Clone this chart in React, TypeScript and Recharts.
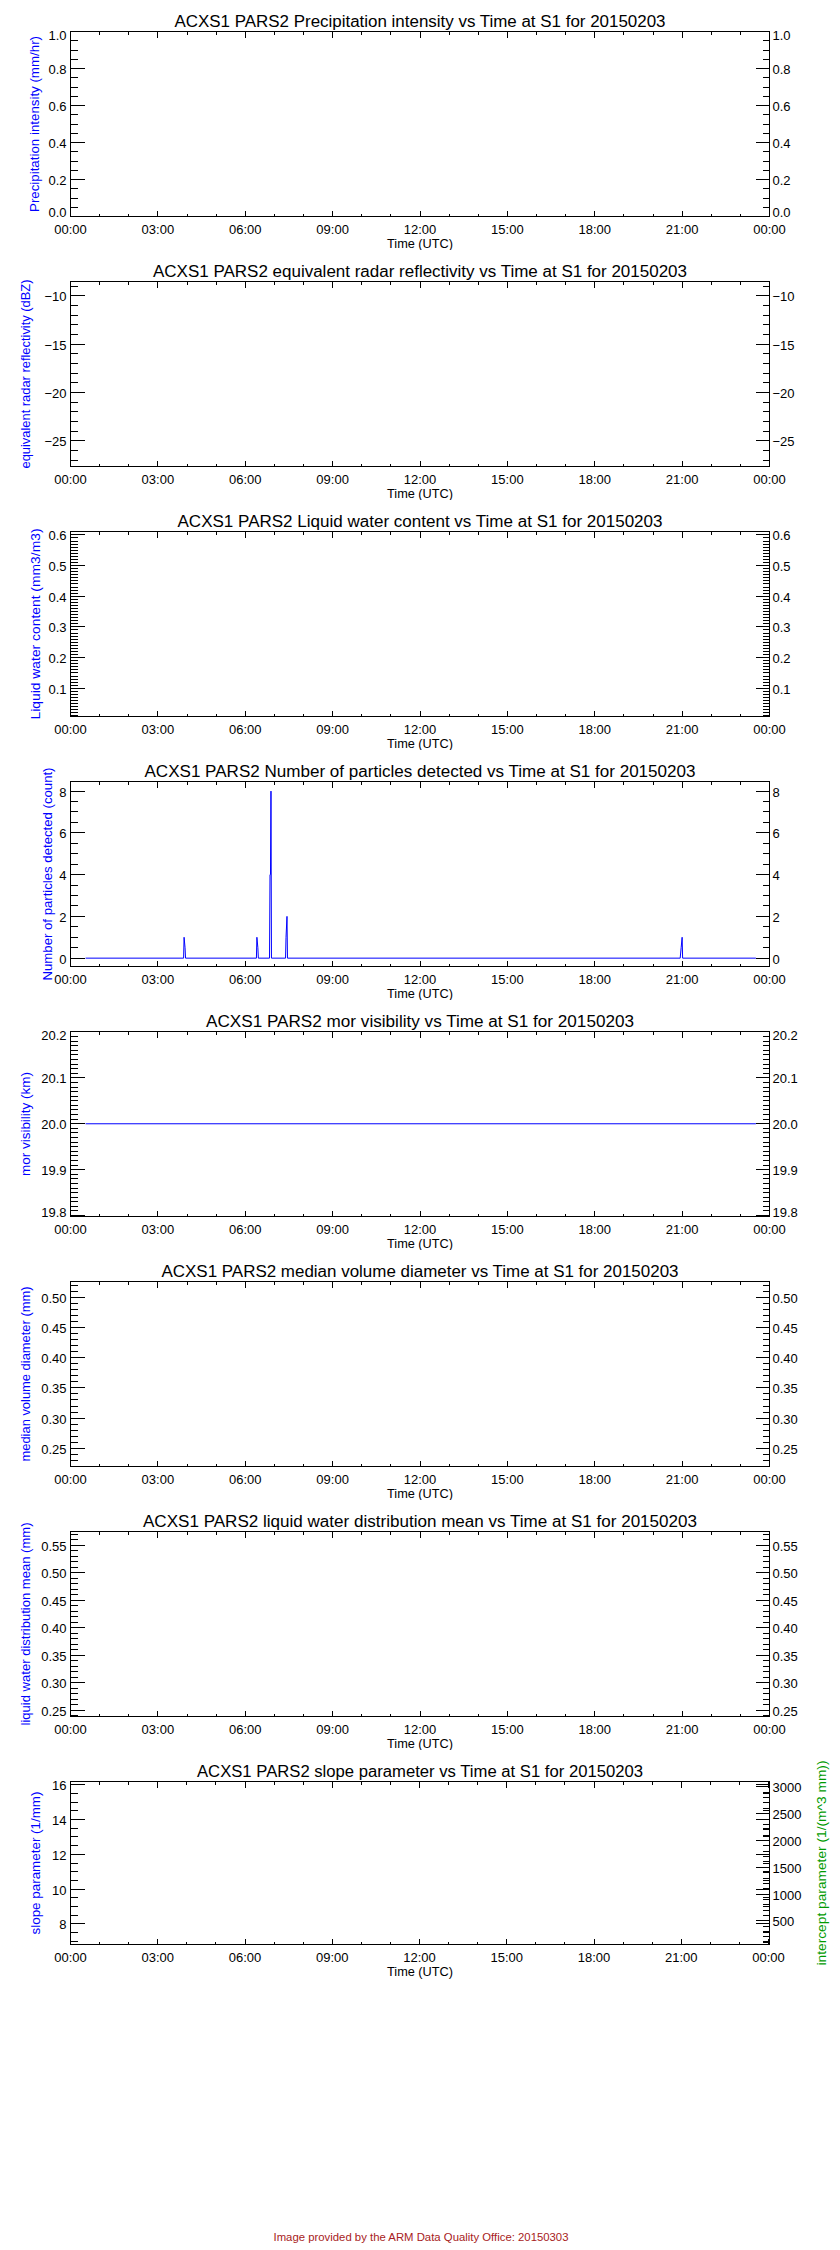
import React from 'react'
import { LineChart, Line, XAxis, YAxis } from 'recharts'

const FONT = '"Liberation Sans", Arial, sans-serif'
const BLUE = '#0000ff'
const GREEN = '#009a00'
const FOOTER_RED = '#a81c22'

const CHART_W = 840
const PANEL_H = 250
const AXIS_W = 1
const M_SIDE = 70.5 - AXIS_W
const M_TOP = 31.5 - AXIS_W

// time axis in minutes since 00:00 UTC
const timeTicks = [0, 60, 120, 180, 240, 300, 360, 420, 480, 540, 600, 660, 720, 780, 840, 900, 960, 1020, 1080, 1140, 1200, 1260, 1320, 1380, 1440]
const timeLabels = ['00:00', '03:00', '06:00', '09:00', '12:00', '15:00', '18:00', '21:00', '00:00']

// number of particles detected (count)
const particleTimes = [31, 233, 234, 236, 237, 383, 384, 386, 387, 410, 411, 412, 413, 414, 443, 444, 446, 447, 1256, 1258, 1260, 1261, 1412]
const particleCounts = [0, 0, 1, 0.5, 0, 0, 1, 0.5, 0, 0, 4, 4, 8, 0, 0, 1, 2, 0, 0, 0.5, 1, 0, 0]

// mor visibility (km)
const visTimes = [31, 1412]
const visValues = [20.0, 20.0]

// panels with no valid data
const emptyTimes = [0, 1440]
const emptyValues = [null, null]

// y tick labels
const precipTicks = [0, 0.2, 0.4, 0.6, 0.8, 1.0]
const dbzTicks = [-25, -20, -15, -10]
const lwcTicks = [0.1, 0.2, 0.3, 0.4, 0.5, 0.6]
const countTicks = [0, 2, 4, 6, 8]
const visTicks = [19.8, 19.9, 20.0, 20.1, 20.2]
const mvdTicks = [0.25, 0.3, 0.35, 0.4, 0.45, 0.5]
const lwdTicks = [0.25, 0.3, 0.35, 0.4, 0.45, 0.5, 0.55]
const slopeTicks = [8, 10, 12, 14, 16]
const interceptTicks = [500, 1000, 1500, 2000, 2500, 3000]

const panels = [
  {
    title: 'ACXS1 PARS2 Precipitation intensity vs Time at S1 for 20150203', titleLen: 491,
    yLabel: 'Precipitation intensity (mm/hr)', yLabelX: 35, yLabelLen: 176,
    domain: [0, 1], majors: precipTicks, minorStep: 0.05, decimals: 1,
    times: emptyTimes, values: emptyValues,
  },
  {
    title: 'ACXS1 PARS2 equivalent radar reflectivity vs Time at S1 for 20150203', titleLen: 534,
    yLabel: 'equivalent radar reflectivity (dBZ)', yLabelX: 26, yLabelLen: 189,
    domain: [-27.64, -8.52], majors: dbzTicks, minorStep: 1, decimals: 0,
    times: emptyTimes, values: emptyValues,
  },
  {
    title: 'ACXS1 PARS2 Liquid water content vs Time at S1 for 20150203', titleLen: 485,
    yLabel: 'Liquid water content (mm3/m3)', yLabelX: 36, yLabelLen: 191,
    domain: [0.008, 0.611], majors: lwcTicks, minorStep: 0.01, decimals: 1,
    times: emptyTimes, values: emptyValues,
  },
  {
    title: 'ACXS1 PARS2 Number of particles detected vs Time at S1 for 20150203', titleLen: 551,
    yLabel: 'Number of particles detected (count)', yLabelX: 48, yLabelLen: 213,
    domain: [-0.4, 8.46], majors: countTicks, minorStep: 0.5, decimals: 0,
    times: particleTimes, values: particleCounts,
  },
  {
    title: 'ACXS1 PARS2 mor visibility vs Time at S1 for 20150203', titleLen: 428,
    yLabel: 'mor visibility (km)', yLabelX: 26, yLabelLen: 104,
    domain: [19.798, 20.201], majors: visTicks, minorStep: 0.01, decimals: 1,
    times: visTimes, values: visValues,
  },
  {
    title: 'ACXS1 PARS2 median volume diameter vs Time at S1 for 20150203', titleLen: 517,
    yLabel: 'median volume diameter (mm)', yLabelX: 26, yLabelLen: 175,
    domain: [0.22, 0.526], majors: mvdTicks, minorStep: 0.01, decimals: 2,
    times: emptyTimes, values: emptyValues,
  },
  {
    title: 'ACXS1 PARS2 liquid water distribution mean vs Time at S1 for 20150203', titleLen: 554,
    yLabel: 'liquid water distribution mean (mm)', yLabelX: 26, yLabelLen: 203,
    domain: [0.239, 0.575], majors: lwdTicks, minorStep: 0.01, decimals: 2,
    times: emptyTimes, values: emptyValues,
  },
  {
    title: 'ACXS1 PARS2 slope parameter vs Time at S1 for 20150203', titleLen: 446,
    yLabel: 'slope parameter (1/mm)', yLabelX: 36, yLabelLen: 143,
    domain: [6.8, 16.2], majors: slopeTicks, minorStep: 0.5, decimals: 0,
    times: emptyTimes, values: emptyValues,
    bottomMargin: 55.5,
    right: {
      label: 'intercept parameter (1/(m^3 mm))', labelX: 822, labelLen: 205,
      domain: [60, 3100], majors: interceptTicks, minorStep: 100, decimals: 0,
    },
  },
]

function allTicks(domain: number[], step: number, majors: number[]) {
  const out = [...majors]
  const start = Math.ceil(domain[0] / step - 1e-9)
  const end = Math.floor(domain[1] / step + 1e-9)
  for (let k = start; k <= end; k++) {
    const v = +(k * step).toFixed(6)
    if (!majors.some(m => Math.abs(m - v) < step / 10)) out.push(v)
  }
  return out.sort((a, b) => a - b)
}

const lineStyle = { stroke: '#000', strokeWidth: 1, shapeRendering: 'crispEdges' as const }

// plot edge position is passed in so ticks sit on the frame no matter the axis offset
function makeYTick(side: 'left' | 'right', edgeX: number, majors: number[], decimals: number, top: number, bottom: number, labels: boolean) {
  return (props: any) => {
    const { y, payload } = props
    const x = edgeX
    const v = payload.value
    const major = majors.some(m => Math.abs(m - v) < 1e-6)
    const len = major ? 14 : 7
    const dir = side === 'left' ? 1 : -1
    const base = Math.min(Math.max(y + 5.5, top + 8.5), bottom)
    return (
      <g>
        <line x1={x} x2={x + dir * len} y1={y} y2={y} {...lineStyle} />
        {labels && major && (
          <text
            x={side === 'left' ? x - 4 : x + 3}
            y={base}
            textAnchor={side === 'left' ? 'end' : 'start'}
            fontSize={13}
            fontFamily={FONT}
            fill="#000"
          >
            {v.toFixed(decimals).replace('-', '\u2212')}
          </text>
        )}
      </g>
    )
  }
}

function makeXTick(side: 'top' | 'bottom', edgeY: number) {
  return (props: any) => {
    const { x, payload } = props
    const y = edgeY
    const v = payload.value
    const major = v % 180 === 0
    const len = major ? 6 : 3
    const dir = side === 'bottom' ? -1 : 1
    return (
      <g>
        <line x1={x} x2={x} y1={y} y2={y + dir * len} {...lineStyle} />
        {side === 'bottom' && major && (
          <text x={x} y={y + 17.5} textAnchor="middle" fontSize={13} fontFamily={FONT} fill="#000">
            {timeLabels[v / 180]}
          </text>
        )}
      </g>
    )
  }
}

function Panel({ p, index }: { p: any; index: number }) {
  const bottomMargin = (p.bottomMargin ?? 33.5) - AXIS_W
  const plotTop = M_TOP + AXIS_W
  const plotBottom = PANEL_H - bottomMargin - AXIS_W
  const plotLeft = M_SIDE + AXIS_W
  const plotRight = CHART_W - M_SIDE - AXIS_W
  const data = p.times.map((t: number, i: number) => ({ t, v: p.values[i] }))
  const yTicks = allTicks(p.domain, p.minorStep, p.majors)
  const midY = (plotTop + plotBottom) / 2

  return (
    <div style={{ position: 'absolute', left: 0, top: index * PANEL_H, width: CHART_W, height: PANEL_H }}>
      <LineChart
        width={CHART_W}
        height={PANEL_H}
        data={data}
        margin={{ top: M_TOP, right: M_SIDE, bottom: bottomMargin, left: M_SIDE }}
      >
        <XAxis
          dataKey="t" type="number" domain={[0, 1440]} allowDataOverflow
          ticks={timeTicks} interval={0} height={AXIS_W} tickSize={0} tickMargin={0}
          axisLine={false} tickLine={false} tick={makeXTick('bottom', plotBottom)}
        />
        <XAxis
          xAxisId="top" orientation="top" dataKey="t" type="number" domain={[0, 1440]} allowDataOverflow
          ticks={timeTicks} interval={0} height={AXIS_W} tickSize={0} tickMargin={0}
          axisLine={false} tickLine={false} tick={makeXTick('top', plotTop)}
        />
        <YAxis
          yAxisId="left" type="number" domain={p.domain} allowDataOverflow
          ticks={yTicks} interval={0} width={AXIS_W} tickSize={0} tickMargin={0}
          axisLine={false} tickLine={false}
          tick={makeYTick('left', plotLeft, p.majors, p.decimals, plotTop, plotBottom, true)}
        />
        <YAxis
          yAxisId="right" orientation="right" type="number" domain={p.domain} allowDataOverflow
          ticks={yTicks} interval={0} width={AXIS_W} tickSize={0} tickMargin={0}
          axisLine={false} tickLine={false}
          tick={makeYTick('right', plotRight, p.majors, p.decimals, plotTop, plotBottom, !p.right)}
        />
        {p.right && (
          <YAxis
            yAxisId="intercept" orientation="right" type="number" domain={p.right.domain} allowDataOverflow
            ticks={allTicks(p.right.domain, p.right.minorStep, p.right.majors)} interval={0}
            width={AXIS_W} tickSize={0} tickMargin={0} axisLine={false} tickLine={false}
            tick={makeYTick('right', plotRight, p.right.majors, p.right.decimals, plotTop, plotBottom, true)}
          />
        )}
        <Line
          yAxisId="left" dataKey="v" type="linear" stroke={BLUE} strokeWidth={1}
          dot={false} activeDot={false} isAnimationActive={false} connectNulls={false}
        />
      </LineChart>
      <svg
        width={CHART_W}
        height={PANEL_H}
        style={{ position: 'absolute', left: 0, top: 0, pointerEvents: 'none' }}
        fontFamily={FONT}
      >
        <rect
          x={plotLeft} y={plotTop} width={plotRight - plotLeft} height={plotBottom - plotTop}
          fill="none" {...lineStyle}
        />
        <text x={420} y={plotTop - 5} textAnchor="middle" fontSize={16} fill="#000"
          textLength={p.titleLen} lengthAdjust="spacingAndGlyphs">
          {p.title}
        </text>
        <text x={420} y={plotBottom + 31.5} textAnchor="middle" fontSize={13} fill="#000"
          textLength={66} lengthAdjust="spacingAndGlyphs">
          Time (UTC)
        </text>
        <text
          x={p.yLabelX} y={midY} textAnchor="middle" dominantBaseline="central" fontSize={12} fill={BLUE}
          transform={`rotate(-90 ${p.yLabelX} ${midY})`} textLength={p.yLabelLen} lengthAdjust="spacingAndGlyphs"
        >
          {p.yLabel}
        </text>
        {p.right && (
          <text
            x={p.right.labelX} y={midY} textAnchor="middle" dominantBaseline="central" fontSize={12} fill={GREEN}
            transform={`rotate(-90 ${p.right.labelX} ${midY})`} textLength={p.right.labelLen} lengthAdjust="spacingAndGlyphs"
          >
            {p.right.label}
          </text>
        )}
      </svg>
    </div>
  )
}

export default function App() {
  return (
    <div style={{ position: 'absolute', left: 0, top: 0, width: CHART_W, height: 2250, background: '#fff', fontFamily: FONT, overflow: 'hidden' }}>
      {panels.map((p, i) => (
        <Panel key={i} p={p} index={i} />
      ))}
      <svg width={CHART_W} height={30} style={{ position: 'absolute', left: 0, top: 2220 }} fontFamily={FONT}>
        <text x={421} y={21} textAnchor="middle" fontSize={11} fill={FOOTER_RED}
          textLength={295} lengthAdjust="spacingAndGlyphs">
          Image provided by the ARM Data Quality Office: 20150303
        </text>
      </svg>
    </div>
  )
}
